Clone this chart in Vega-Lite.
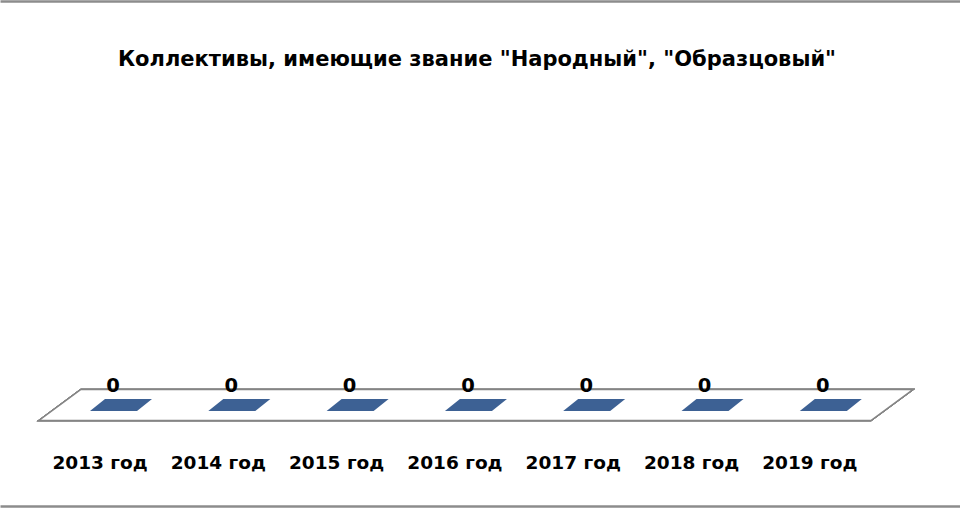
{
  "$schema": "https://vega.github.io/schema/vega-lite/v6.json",
  "width": 960,
  "height": 505,
  "autosize": {"type": "none"},
  "padding": {"left": 0, "top": 1, "right": 0, "bottom": 4},
  "background": "white",
  "title": {
    "text": "Коллективы, имеющие звание \"Народный\", \"Образцовый\"",
    "anchor": "middle",
    "font": "DejaVu Sans",
    "fontSize": 21,
    "fontWeight": "bold",
    "color": "#000000",
    "offset": -86,
    "baseline": "alphabetic",
    "dx": -3
  },
  "data": {
    "values": [
      {"year": "2013 год", "value": 0},
      {"year": "2014 год", "value": 0},
      {"year": "2015 год", "value": 0},
      {"year": "2016 год", "value": 0},
      {"year": "2017 год", "value": 0},
      {"year": "2018 год", "value": 0},
      {"year": "2019 год", "value": 0}
    ]
  },
  "layer": [
    {
      "mark": {
        "type": "point",
        "shape": "M-4.37,0.155L-3.95,-0.155L4.37,-0.155L3.95,0.155Z",
        "size": 40000,
        "fill": "white",
        "stroke": "#858585",
        "strokeWidth": 1.5,
        "opacity": 1
      },
      "encoding": {
        "x": {
          "datum": "2016 год",
          "type": "nominal",
          "scale": {
            "type": "band",
            "domain": ["2013 год", "2014 год", "2015 год", "2016 год", "2017 год", "2018 год", "2019 год"],
            "paddingInner": 0,
            "paddingOuter": 0.5575,
            "align": 0.469
          },
          "axis": {"orient": "top", "labels": false, "ticks": false, "grid": false, "title": null, "domainColor": "#8c8c8c", "domainWidth": 2.5}
        },
        "y": {
          "datum": 0,
          "type": "quantitative",
          "scale": {"domain": [-0.25, 1], "nice": false, "zero": false},
          "axis": null
        }
      }
    },
    {
      "mark": {
        "type": "point",
        "shape": "M-1.6,-0.6L3.1,-0.6L1.6,0.6L-3.1,0.6Z",
        "size": 400,
        "fill": "#3D6194",
        "strokeWidth": 0,
        "opacity": 1
      },
      "encoding": {
        "x": {
          "field": "year",
          "type": "nominal",
          "axis": {"orient": "bottom", "labels": false, "ticks": false, "grid": false, "title": null, "domainColor": "#8c8c8c", "domainWidth": 2.5}
        },
        "y": {"field": "value", "type": "quantitative", "axis": null}
      }
    },
    {
      "mark": {
        "type": "text",
        "font": "DejaVu Sans",
        "fontSize": 19.5,
        "fontWeight": "bold",
        "color": "#000000",
        "baseline": "alphabetic",
        "dx": -8,
        "dy": -13
      },
      "encoding": {
        "x": {"field": "year", "type": "nominal", "axis": null},
        "y": {"field": "value", "type": "quantitative", "axis": null},
        "text": {"field": "value", "type": "quantitative"}
      }
    },
    {
      "mark": {
        "type": "text",
        "font": "DejaVu Sans",
        "fontSize": 18.5,
        "fontWeight": "bold",
        "color": "#000000",
        "baseline": "alphabetic",
        "dx": -21,
        "dy": 64
      },
      "encoding": {
        "x": {"field": "year", "type": "nominal", "axis": null},
        "y": {"field": "value", "type": "quantitative", "axis": null},
        "text": {"field": "year", "type": "nominal"}
      }
    }
  ],
  "resolve": {"axis": {"x": "independent"}},
  "config": {"view": {"stroke": null}}
}
